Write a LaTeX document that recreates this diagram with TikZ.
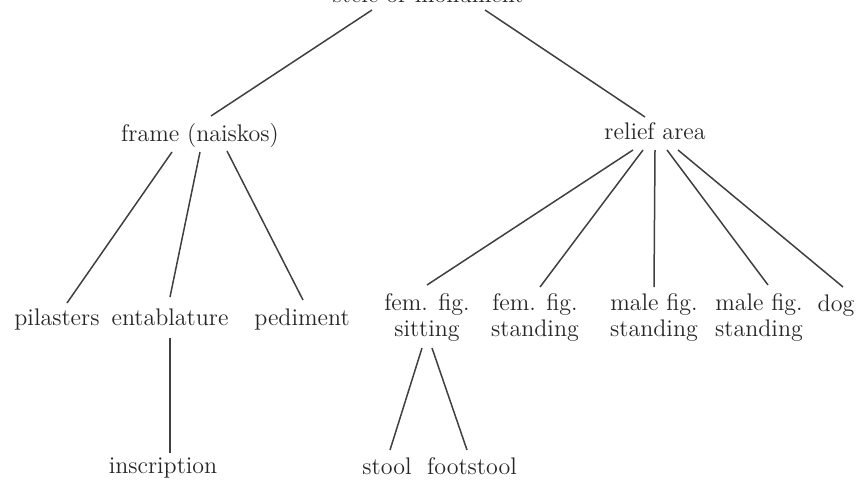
\documentclass[tikz,border=0pt]{standalone}
\usepackage{fontspec}
\setmainfont{Latin Modern Roman}
\begin{document}
\begin{tikzpicture}[x=0.5pt,y=-0.5pt,
  lbl/.style={inner sep=0pt,outer sep=0pt,font=\fontsize{12}{13}\selectfont,text=black!85},
  stack/.style={lbl,align=center,anchor=north},
  conn/.style={draw=black!75,line width=0.75pt}]
\useasboundingbox (0,0) rectangle (866,481);
% nodes
\node[lbl,anchor=base] (root) at (428,3) {stele or monument};
\node[lbl,anchor=base] (frame) at (200,141) {frame (naiskos)};
\node[lbl,anchor=base] (relief) at (655,140) {relief area};
\node[lbl,anchor=base] (pil) at (57,325) {pilasters};
\node[lbl,anchor=base] (ent) at (170,325) {entablature};
\node[lbl,anchor=base] (ped) at (302,325) {pediment};
\node[stack] (sit) at (427,294) {fem. fig.\\sitting};
\node[stack] (fst) at (535,294) {fem. fig.\\standing};
\node[stack] (mst) at (654,294) {male fig.\\standing};
\node[stack] (mst2) at (759,294) {male fig.\\standing};
\node[lbl,anchor=base] (dog) at (836,311) {dog};
\node[lbl,anchor=base] (ins) at (163,473) {inscription};
\node[lbl,anchor=base] (stool) at (387,474) {stool};
\node[lbl,anchor=base] (foot) at (472,474) {footstool};
% connectors
\draw[conn] ([shift={(-56,7)}]root.base) -- ([shift={(11,-25)}]frame.base);
\draw[conn] ([shift={(57,7)}]root.base) -- ([shift={(-10,-23)}]relief.base);
\draw[conn] ([shift={(-28,11)}]frame.base) -- ([shift={(10,-22)}]pil.base);
\draw[conn] ([shift={(0,11)}]frame.base) -- ([shift={(0,-28)}]ent.base);
\draw[conn] ([shift={(27,10)}]frame.base) -- ([shift={(1,-25)}]ped.base);
\draw[conn] ([shift={(-22,10)}]relief.base) -- ([shift={(0,-9)}]sit.north);
\draw[conn] ([shift={(-12,10)}]relief.base) -- ([shift={(5,-7)}]fst.north);
\draw[conn] ([shift={(0,10)}]relief.base) -- ([shift={(0,-7)}]mst.north);
\draw[conn] ([shift={(12,10)}]relief.base) -- ([shift={(9,-9)}]mst2.north);
\draw[conn] ([shift={(23,10)}]relief.base) -- ([shift={(7,-24)}]dog.base);
\draw[conn] ([shift={(0,13)}]ent.base) -- ([shift={(7,-20)}]ins.base);
\draw[conn] ([shift={(-5,54)}]sit.north) -- ([shift={(3,-24)}]stool.base);
\draw[conn] ([shift={(5,54)}]sit.north) -- ([shift={(-5,-24)}]foot.base);
\end{tikzpicture}
\end{document}
